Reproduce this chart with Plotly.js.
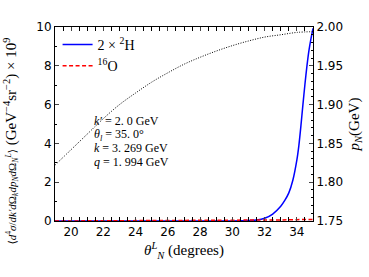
<!DOCTYPE html>
<html>
<head>
<meta charset="utf-8">
<script src="https://cdn.plot.ly/plotly-3.0.1.min.js"></script>
<style>html,body{margin:0;padding:0;background:#fff;}#chart{width:369px;height:277px;}</style>
</head>
<body>
<div id="chart"></div>
<script>
// Nucleon momentum p_N (right axis) vs theta_N^L
const thetaP = [19, 20, 21, 22, 23, 24, 25, 26, 27, 28, 29, 30, 31, 32, 33, 34, 35];
const pN = [1.822, 1.842, 1.862, 1.882, 1.900, 1.915, 1.929, 1.941, 1.952, 1.961, 1.969, 1.976, 1.982, 1.987, 1.990, 1.993, 1.994];

// 2 x 2H cross section (x 1e9)
const thetaH = [19, 25, 28, 30, 31, 31.5, 32, 32.5, 33, 33.25, 33.5, 33.75, 34, 34.125, 34.25, 34.375, 34.5, 34.625, 34.75, 34.875, 35];
const xsecH = [0, 0, 0, 0.005, 0.02, 0.05, 0.14, 0.36, 0.76, 1.06, 1.45, 2.1, 3.15, 3.9, 4.9, 6.0, 7.05, 8.0, 8.8, 9.4, 9.93];

// 16O cross section (x 1e9)
const thetaO = [19, 22, 25, 28, 30, 32, 33, 34, 35];
const xsecO = [0.0, 0.005, 0.01, 0.02, 0.03, 0.045, 0.055, 0.07, 0.08];

// Kinematics text
const kinLines = [
  '<i>k′</i> = 2. 0 GeV',
  '<i>θ</i><sub><i>l</i></sub> = 35. 0°',
  '<i>k</i> = 3. 269 GeV',
  '<i>q</i> = 1. 994 GeV'
];
const kinY = [5.15, 4.45, 3.75, 3.03];

const serif = 'Liberation Serif, DejaVu Serif, serif';
const sans = 'DejaVu Sans, sans-serif';

const traces = [
  {x: thetaP, y: pN, yaxis: 'y2', mode: 'lines', showlegend: false,
   line: {color: 'black', width: 1, dash: '1px,1.5px', shape: 'spline'}},
  {x: thetaH, y: xsecH, mode: 'lines', name: '2 × <sup>2</sup>H',
   line: {color: '#0000ff', width: 1.5, shape: 'spline', smoothing: 0.6}},
  {x: thetaO, y: xsecO, mode: 'lines', name: '<sup>16</sup>O',
   line: {color: '#ff0000', width: 1.5, dash: '4px,2.5px'}}
];

const annotations = kinLines.map((t, i) => ({
  x: 21.3, y: kinY[i], xref: 'x', yref: 'y', text: t, showarrow: false,
  xanchor: 'left', yanchor: 'middle', font: {family: serif, size: 12, color: 'black'}
}));
annotations.push({
  x: -0.17, y: 0.41, xref: 'paper', yref: 'paper', textangle: -90, showarrow: false,
  xanchor: 'center', yanchor: 'middle',
  text: '<span style="font-size:11px">⟨<i>d</i><sup>4</sup><i>σ</i>/<i>dk′d</i>Ω<sub><i>k</i></sub><i>dp</i><sub><i>N</i></sub><i>d</i>Ω<sub><i>N</i></sub><sup><i>L</i></sup>⟩</span> (GeV<sup>−4</sup>sr<sup>−2</sup>) × 10<sup>9</sup>',
  font: {family: serif, size: 15, color: 'black'}
});

const layout = {
  width: 369, height: 277,
  margin: {l: 55, r: 56, t: 27, b: 56},
  paper_bgcolor: 'white', plot_bgcolor: 'white',
  showlegend: true,
  legend: {x: 0.01, y: 0.99, xanchor: 'left', yanchor: 'top', bgcolor: 'rgba(0,0,0,0)',
           font: {family: serif, size: 14, color: 'black'}, tracegroupgap: 0},
  xaxis: {
    range: [19, 35], dtick: 2, tick0: 0, ticks: 'inside', ticklen: 4, tickwidth: 1,
    showline: true, linecolor: 'black', linewidth: 1, mirror: 'allticks', showgrid: false, zeroline: false,
    tickfont: {family: sans, size: 12, color: 'black'},
    minor: {dtick: 0.5, ticks: 'inside', ticklen: 2, tickcolor: 'black', showgrid: false},
    title: {text: '<i>θ</i><sup><i>L</i></sup><sub><i>N</i></sub> (degrees)', font: {family: serif, size: 15, color: 'black'}, standoff: 6}
  },
  yaxis: {
    range: [0, 10], dtick: 2, ticks: 'inside', ticklen: 4, tickwidth: 1,
    showline: true, linecolor: 'black', linewidth: 1, mirror: false, showgrid: false, zeroline: false,
    tickfont: {family: sans, size: 12, color: 'black'},
    minor: {dtick: 1, ticks: 'inside', ticklen: 2, tickcolor: 'black', showgrid: false}
  },
  yaxis2: {
    overlaying: 'y', side: 'right', range: [1.75, 2.0], dtick: 0.05, tick0: 1.75, tickformat: '.2f',
    ticks: 'inside', ticklen: 4, tickwidth: 1,
    showline: true, linecolor: 'black', linewidth: 1, showgrid: false, zeroline: false,
    tickfont: {family: sans, size: 12, color: 'black'},
    minor: {dtick: 0.01, ticks: 'inside', ticklen: 2, tickcolor: 'black', showgrid: false},
    title: {text: '<i>p</i><sub><i>N</i></sub>(GeV)', font: {family: serif, size: 15, color: 'black'}, standoff: 6}
  },
  annotations: annotations
};

Plotly.newPlot('chart', traces, layout, {staticPlot: true, displayModeBar: false});
</script>
</body>
</html>
